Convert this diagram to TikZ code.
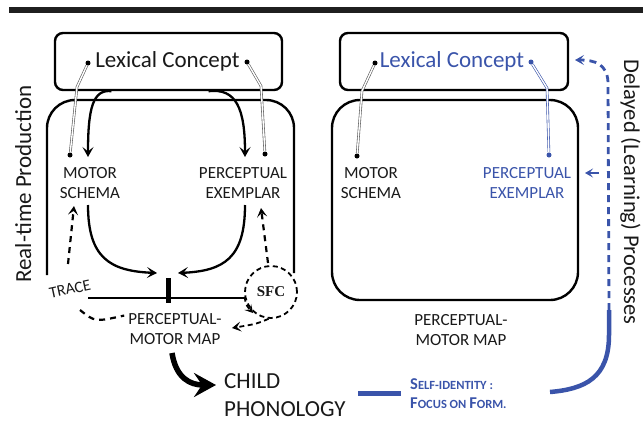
\documentclass[tikz,border=0pt]{standalone}
\usepackage{fontspec}
\setmainfont{Carlito}
\newfontfamily\sfcfont{Liberation Serif}
\usetikzlibrary{arrows.meta,calc}
\definecolor{myblue}{RGB}{58,84,170}
\definecolor{txt}{RGB}{25,25,25}
\begin{document}
\begin{tikzpicture}[x=1pt,y=-1pt,
  lbl/.style={anchor=base,inner sep=0pt,text=txt,font=\fontsize{17}{18}\selectfont},
  big/.style={anchor=base,inner sep=0pt,text=txt,font=\fontsize{23}{24}\selectfont},
  lcbox/.style={draw=black,line width=2.4pt,rounded corners=8pt,inner sep=0pt,minimum height=57pt},
  dbl/.style={draw=black!65,line width=0.6pt,double=white,double distance=1.4pt},
  dblb/.style={draw=myblue,line width=0.6pt,double=white,double distance=1.4pt},
  dot/.style={circle,fill=black,inner sep=0pt,minimum size=5pt},
  arr/.style={line width=2.3pt,-{Stealth[length=10pt,width=11pt,inset=4.5pt]}},
  darr/.style={line width=2.2pt,dash pattern=on 6pt off 5pt,-{Stealth[length=9pt,width=10pt,inset=4pt]}},
  dline/.style={line width=2.2pt,dash pattern=on 6pt off 5pt},
]
\useasboundingbox (0,0) rectangle (643,424);
\fill[black!88] (9,7) rectangle (643,13);

% ---------- left panel ----------
\node[lcbox,minimum width=227pt] (lcbox1) at (168.5,61.5) {};
\draw[line width=2.4pt,rounded corners=28pt] (47,275) -- (47,100) -- (294,100) -- (294,273);
\node[anchor=base,inner sep=0pt,text=txt,font=\fontsize{23}{24}\selectfont] (lc1) at (167.5,67) {Lexical Concept};
\node[dot] (d1) at (88,63) {};
\node[dot] (d2) at (247,62) {};
\node[dot] (m1) at (70,155) {};
\node[dot] (p1) at (265,154) {};
\draw[dbl] (d1) -- (77,87) -- (m1);
\draw[dbl] (d2) -- (261,86) -- (p1);

\node[lbl] (ms1a) at (90,178) {MOTOR};
\node[lbl] (ms1b) at (90,198) {SCHEMA};
\node[lbl] (pe1a) at (243,178) {PERCEPTUAL};
\node[lbl] (pe1b) at (243,198) {EXEMPLAR};

\coordinate (ms1in) at (88,157);
\coordinate (pe1in) at (245,157);
\draw[arr] ([xshift=-57pt]lcbox1.south) .. controls (93,89) and (88,108) .. (ms1in);
\draw[arr] ([xshift=40pt]lcbox1.south) .. controls (236,88) and (245,108) .. (pe1in);

\node[fill=black,minimum width=5pt,minimum height=25pt,inner sep=0pt] (bar) at (168,290.5) {};
\coordinate (ms1out) at (88,205);
\coordinate (pe1out) at (245,205);
\coordinate (barl) at (157,273);
\coordinate (barr) at (178,273);
\draw[arr] (ms1out) .. controls (88,258) and (110,271) .. (barl);
\draw[arr] (pe1out) .. controls (245,258) and (224,271) .. (barr);

\node[draw,circle,line width=1.8pt,dash pattern=on 5pt off 3.5pt,minimum size=52pt,inner sep=0pt,
      text=txt,font=\sfcfont\bfseries\fontsize{15}{16}\selectfont] (sfc) at (271,292) {SFC};
\coordinate (hl) at (88,298);
\draw[line width=2.4pt] (hl) -- (hl -| sfc.west);

\node[lbl,anchor=center,rotate=12,font=\fontsize{16}{16}\selectfont] (trace) at (70,289) {TRACE};
\coordinate (tr1) at (68,264);
\coordinate (ms1up) at (74,206);
\draw[darr] (tr1) -- (ms1up);
\coordinate (sfcup) at (268,263);
\coordinate (pe1up) at (261,208);
\draw[darr] (sfcup) -- (pe1up);

\node[lbl] (pm1a) at (175,324) {PERCEPTUAL-};
\node[lbl] (pm1b) at (175,344) {MOTOR MAP};
\coordinate (tr2) at (80,310);
\draw[dline] (tr2) .. controls (95,322) .. ([xshift=-4pt,yshift=3pt]pm1a.west);
\draw[line width=1.8pt,dash pattern=on 5pt off 3.5pt,-{Stealth[length=8pt,width=9pt,inset=3.5pt]}]
     (sfc.190) .. controls (246,305) .. (253,313);
\coordinate (pmin) at (232,328);
\draw[line width=1.8pt,dash pattern=on 5pt off 3.5pt,-{Stealth[length=9pt,width=10pt,inset=4pt]}]
     (sfc.265) .. controls (256,324) .. (pmin);

\node[big,anchor=base west] (ch1) at (224,388) {CHILD};
\node[big,anchor=base west] (ch2) at (224,416) {PHONOLOGY};
\coordinate (pmout) at (172,353);
\coordinate (chin) at (216,385);
\draw[line width=5.5pt,-{Stealth[length=22pt,width=24pt,inset=8pt]}] (pmout) .. controls (176,378) and (190,385) .. (chin);

% ---------- right panel ----------
\node[lcbox,minimum width=228pt] (lcbox2) at (454,61.5) {};
\draw[line width=2.4pt,rounded corners=28pt] (332,100) rectangle (578,300);
\node[anchor=base,inner sep=0pt,text=myblue,font=\fontsize{23}{24}\selectfont] (lc2) at (452,67) {Lexical Concept};
\node[dot] (d3) at (375,63) {};
\node[dot,fill=myblue] (d4) at (531,62) {};
\node[dot] (m2) at (357,156) {};
\node[dot,fill=myblue] (p2) at (549,155) {};
\draw[dbl] (d3) -- (362,91) -- (m2);
\draw[dblb] (d4) -- (547,88) -- (p2);

\node[lbl] (ms2a) at (371,178) {MOTOR};
\node[lbl] (ms2b) at (371,198) {SCHEMA};
\node[lbl,text=myblue] (pe2a) at (527,178) {PERCEPTUAL};
\node[lbl,text=myblue] (pe2b) at (527,198) {EXEMPLAR};
\node[lbl] (pm2a) at (461,325) {PERCEPTUAL-};
\node[lbl] (pm2b) at (461,345) {MOTOR MAP};

\node[anchor=base west,inner sep=0pt,text=myblue,font=\bfseries\fontsize{16.5}{18}\selectfont] (si1) at (410,389)
  {S{\fontsize{12.5}{14}\selectfont ELF-IDENTITY :}};
\node[anchor=base west,inner sep=0pt,text=myblue,font=\bfseries\fontsize{16.5}{18}\selectfont] (si2) at (410,408)
  {F{\fontsize{12.5}{14}\selectfont OCUS ON }F{\fontsize{12.5}{14}\selectfont ORM.}};

\coordinate (ch2r) at (358,393);
\coordinate (si1l) at (401,393);
\draw[myblue,line width=5pt] (ch2r) -- (si1l);

\coordinate (pv) at (609,310);
\coordinate (lc2r) at (575,60);
\coordinate (pe2r) at (585,173);
\coordinate (pe2s) at (599,173);
\coordinate (si1r) at (550,392);
\draw[myblue,line width=2.8pt,dash pattern=on 7pt off 5pt,-{Stealth[length=9pt,width=10pt,inset=4pt]}]
   (pv) -- (608,82) .. controls (607,64) and (595,60) .. (lc2r);
\draw[myblue,line width=2pt,-{Stealth[length=8pt,width=9pt,inset=3.5pt]}] (pe2s) -- (pe2r);
\draw[myblue,line width=4.5pt] (pv) -- (609,335) .. controls (609,378) and (585,389) .. (si1r);

% ---------- side labels ----------
\node[big,rotate=90] (rtp) at (31,184) {Real-time Production};
\node[big,rotate=-90,font=\fontsize{22.5}{24}\selectfont] (dlp) at (624,192) {Delayed (Learning) Processes};
\end{tikzpicture}
\end{document}
